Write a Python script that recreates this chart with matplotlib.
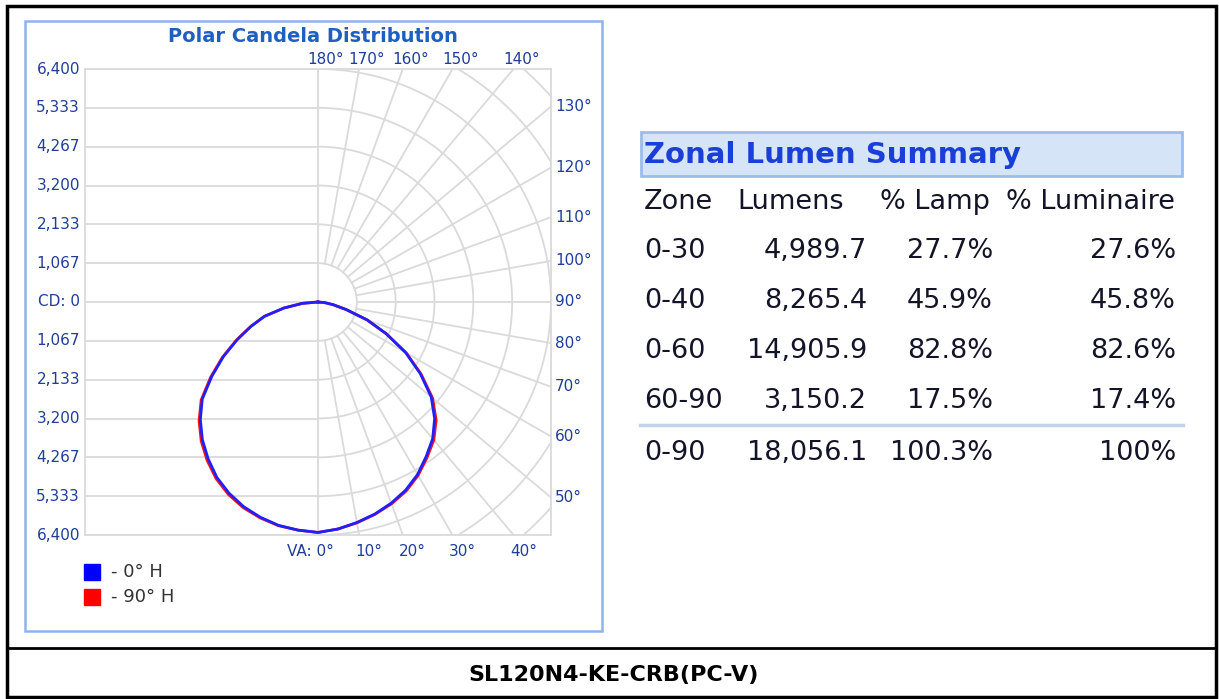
import numpy as np
import matplotlib
matplotlib.use("Agg")
import matplotlib.pyplot as plt
from matplotlib.patches import Rectangle

# candela values per vertical angle, right and left halves of the plot
va = [0, 5, 10, 15, 20, 25, 30, 35, 40, 45, 50, 55, 60, 65, 70, 75, 80, 85, 90]
cd_0h_right = [6330, 6260, 6150, 6030, 5880, 5700, 5470, 5180, 4900, 4530, 4060, 3430, 2780, 2070, 1430, 800, 420, 180, 0]
cd_0h_left = [6330, 6290, 6230, 6120, 5980, 5790, 5560, 5260, 4940, 4570, 4150, 3560, 3000, 2450, 1960, 1520, 950, 430, 0]
cd_90h_right = [6330, 6260, 6160, 6040, 5900, 5730, 5500, 5220, 4950, 4590, 4110, 3460, 2800, 2080, 1440, 800, 420, 180, 0]
cd_90h_left = [6330, 6290, 6240, 6140, 6010, 5830, 5600, 5310, 4990, 4620, 4190, 3600, 3030, 2470, 1970, 1530, 950, 430, 0]

cd_max = 6400
cd_step = cd_max / 6

# zonal lumen summary
zones = ["0-30", "0-40", "0-60", "60-90", "0-90"]
lumens = [4989.7, 8265.4, 14905.9, 3150.2, 18056.1]
pct_lamp = [27.7, 45.9, 82.8, 17.5, 100.3]
pct_lum = [27.6, 45.8, 82.6, 17.4, 100]

W, H = 1219, 699
fig = plt.figure(figsize=(W / 100, H / 100), dpi=100)


def fx(x):
    return x / W


def fy(y):
    return 1 - y / H


# frames
fig.add_artist(Rectangle((fx(7), fy(697)), fx(1216) - fx(7), fy(6) - fy(697),
                         transform=fig.transFigure, fill=False, ec="black", lw=2.5))
fig.add_artist(plt.Line2D([fx(7), fx(1216)], [fy(648), fy(648)],
                          transform=fig.transFigure, color="black", lw=2))
fig.add_artist(Rectangle((fx(25), fy(631)), fx(602) - fx(25), fy(21) - fy(631),
                         transform=fig.transFigure, fill=False, ec="#8db2ee", lw=1.8))

tick_col = "#1f3d99"
grid_col = "#dadada"

ax = fig.add_axes([fx(85), fy(535), (551 - 85) / W, (535 - 69) / H])
ax.set_xlim(-cd_max, cd_max)
ax.set_ylim(-cd_max, cd_max)
ax.set_xticks([])
ax.set_yticks([])
for s in ax.spines.values():
    s.set_color(grid_col)
    s.set_linewidth(1.3)

# left half: plain horizontal lines
for k in range(-6, 7):
    ax.plot([-cd_max, 0], [k * cd_step] * 2, color=grid_col, lw=1.3, zorder=1)
ax.plot([0, 0], [-cd_max, cd_max], color=grid_col, lw=1.3, zorder=1)

# right half: polar grid
phi = np.linspace(-np.pi / 2, np.pi / 2, 200)
for k in range(1, 10):
    r = k * cd_step
    ax.plot(r * np.cos(phi), r * np.sin(phi), color=grid_col, lw=1.3, zorder=1)
for a in range(10, 180, 10):
    t = np.radians(a)
    ax.plot([cd_step * np.sin(t), 12000 * np.sin(t)],
            [-cd_step * np.cos(t), -12000 * np.cos(t)], color=grid_col, lw=1.3, zorder=1)

# candela curves
th = np.radians(va)


def curve(right, left):
    right = np.array(right)
    left = np.array(left)
    xs = np.concatenate([-left[::-1] * np.sin(th[::-1]), right * np.sin(th)])
    ys = np.concatenate([-left[::-1] * np.cos(th[::-1]), -right * np.cos(th)])
    return xs, ys


x90, y90 = curve(cd_90h_right, cd_90h_left)
x0, y0 = curve(cd_0h_right, cd_0h_left)
ax.plot(x90, y90, color="#ff1010", lw=2, zorder=3, solid_joinstyle="round")
ax.plot(x0, y0, color="#2020ff", lw=2, zorder=4, solid_joinstyle="round")

# tick labels
lab_kw = dict(textcoords="offset pixels", color=tick_col, fontsize=11, annotation_clip=False)
for k in range(-6, 7):
    v = k * cd_step
    txt = "CD: 0" if k == 0 else f"{abs(v):,.0f}"
    ax.annotate(txt, (-cd_max, v), xytext=(-5, 0), ha="right", va="center", **lab_kw)
for a in range(50, 140, 10):
    t = np.radians(a)
    ax.annotate(f"{a}°", (cd_max, -cd_max * np.cos(t) / np.sin(t)), xytext=(4, 0),
                ha="left", va="center", **lab_kw)
for a in range(140, 190, 10):
    t = np.radians(a)
    ax.annotate(f"{a}°", (cd_max * np.sin(t) / -np.cos(t), cd_max), xytext=(8, 10),
                ha="center", va="center", **lab_kw)
for a in range(0, 50, 10):
    t = np.radians(a)
    if a == 0:
        ax.annotate("VA: 0°", (0, -cd_max), xytext=(16, -16), ha="right", va="center", **lab_kw)
    else:
        ax.annotate(f"{a}°", (cd_max * np.tan(t), -cd_max), xytext=(10, -16),
                    ha="center", va="center", **lab_kw)

fig.text(fx(313), fy(37), "Polar Candela Distribution", ha="center", va="center",
         fontsize=14, fontweight="bold", color="#1f5fbf")

# legend
for yy, col, name in [(564, "#0000ff", "- 0° H"), (589, "#ff0000", "- 90° H")]:
    fig.add_artist(Rectangle((fx(84), fy(yy + 16)), 16 / W, 16 / H,
                             transform=fig.transFigure, color=col))
    fig.text(fx(111), fy(yy + 8), name, ha="left", va="center", fontsize=13, color="#333333")

# zonal lumen summary table
fig.add_artist(Rectangle((fx(641), fy(176)), (1182 - 641) / W, (176 - 132) / H,
                         transform=fig.transFigure, fc="#d6e4f8", ec="#99bdf0", lw=2))
fig.text(fx(644), fy(155), "Zonal Lumen Summary", ha="left", va="center",
         fontsize=21, fontweight="bold", color="#1a3fd6")

tcol = "#141428"
tsize = 19.5
fig.text(fx(644), fy(202), "Zone", ha="left", va="center", fontsize=tsize, color=tcol)
fig.text(fx(737), fy(202), "Lumens", ha="left", va="center", fontsize=tsize, color=tcol)
fig.text(fx(880), fy(202), "% Lamp", ha="left", va="center", fontsize=tsize, color=tcol)
fig.text(fx(1175), fy(202), "% Luminaire", ha="right", va="center", fontsize=tsize, color=tcol)

row_y = [251, 301, 351, 401, 453]
for i in range(len(zones)):
    y = fy(row_y[i])
    fig.text(fx(644), y, zones[i], ha="left", va="center", fontsize=tsize, color=tcol)
    fig.text(fx(867), y, f"{lumens[i]:,.1f}", ha="right", va="center", fontsize=tsize, color=tcol)
    fig.text(fx(993), y, f"{pct_lamp[i]:.1f}%", ha="right", va="center", fontsize=tsize, color=tcol)
    fig.text(fx(1176), y, f"{pct_lum[i]:g}%", ha="right", va="center", fontsize=tsize, color=tcol)

fig.add_artist(plt.Line2D([fx(640), fx(1183)], [fy(425), fy(425)],
                          transform=fig.transFigure, color="#c0d3ea", lw=2.5))

fig.text(fx(614), fy(675), "SL120N4-KE-CRB(PC-V)", ha="center", va="center",
         fontsize=16, fontweight="bold", color="black")

fig.savefig("out.png", dpi=100, facecolor="white")
